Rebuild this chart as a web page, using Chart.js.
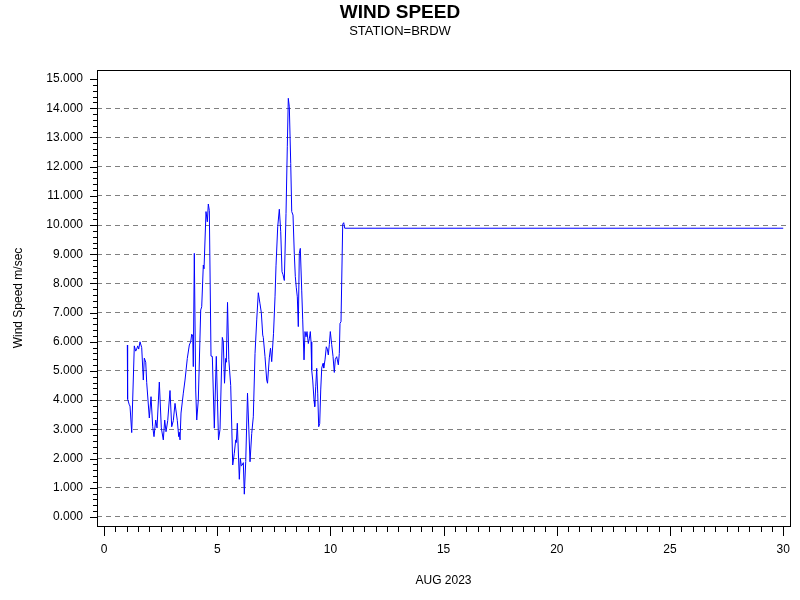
<!DOCTYPE html>
<html><head><meta charset="utf-8">
<script src="https://cdn.jsdelivr.net/npm/chart.js@4/dist/chart.umd.min.js"></script>
<style>html,body{margin:0;padding:0;background:#fff}canvas{display:block}</style>
</head><body>
<canvas id="c" width="800" height="600"></canvas>
<script>
const titleText = 'WIND SPEED';
const subtitleText = 'STATION=BRDW';
const xTitle = 'AUG 2023';
const yTitle = 'Wind Speed m/sec';

const days = [1.029,1.042,1.117,1.148,1.223,1.338,1.400,1.444,1.489,1.533,1.590,1.665,1.736,1.780,1.842,1.886,
2.001,2.076,2.151,2.208,2.284,2.341,2.443,2.531,2.619,2.681,2.739,2.814,2.915,2.990,3.061,3.136,3.238,3.299,3.326,3.357,
3.401,3.503,3.578,3.679,3.768,3.829,3.874,3.918,3.944,3.989,4.050,4.095,4.165,4.271,4.315,4.386,4.417,4.505,4.563,4.607,
4.651,4.726,4.784,4.872,4.960,5.057,5.124,5.225,5.269,5.322,5.375,5.402,5.455,5.512,5.596,5.685,5.755,5.817,5.844,5.888,
5.976,6.020,6.065,6.109,6.153,6.197,6.259,6.338,6.449,6.524,6.594,6.670,6.745,6.815,6.890,6.948,7.010,7.036,7.111,7.186,
7.222,7.301,7.354,7.407,7.487,7.553,7.597,7.672,7.743,7.805,7.862,7.906,7.964,8.039,8.096,8.140,8.185,8.247,8.291,8.348,
8.406,8.450,8.494,8.538,8.582,8.626,8.671,8.732,8.776,8.834,8.878,8.922,8.966,9.024,9.068,9.112,9.143,9.174,9.218,9.276,
9.307,9.351,9.395,9.439,9.483,9.527,9.572,9.616,9.673,9.704,9.761,9.819,9.863,9.907,9.951,9.996,10.057,10.115,10.172,10.216,
10.278,10.349,10.393,10.424,10.468,10.543,10.587,10.632,30.0];

const speed = [5.89,4.04,3.84,3.80,2.89,5.86,5.68,5.75,5.86,5.75,6.00,5.80,4.69,5.44,5.30,4.60,
3.39,4.12,3.09,2.75,3.32,3.05,4.62,3.05,2.64,3.32,2.92,3.30,4.33,3.09,3.30,3.89,3.30,2.75,2.90,2.64,
3.56,4.24,4.69,5.43,5.89,6.00,6.26,6.20,5.15,9.03,4.35,3.32,4.00,7.09,7.20,8.63,8.50,10.46,10.11,10.72,
10.50,5.51,5.50,3.04,5.50,2.64,3.00,6.15,6.00,4.58,5.43,5.30,7.35,5.40,4.50,1.78,2.18,2.64,2.55,3.21,
1.29,2.01,1.75,1.78,1.86,0.78,1.90,4.24,1.89,2.86,3.43,5.60,6.75,7.68,7.30,7.00,6.23,6.15,5.49,4.69,
4.58,5.45,5.78,5.32,6.29,7.54,8.60,9.94,10.54,9.77,8.40,8.30,8.10,10.40,12.68,14.34,14.05,12.11,10.46,10.34,
9.00,8.23,7.85,7.54,6.52,9.03,9.20,7.77,6.75,5.38,6.35,6.17,6.35,5.94,6.10,6.35,6.00,5.03,4.69,4.00,
3.78,4.46,5.09,4.24,3.09,3.20,4.35,5.10,5.26,5.10,5.38,5.83,5.75,5.55,5.90,6.35,5.90,5.50,4.95,5.40,
5.49,5.21,5.60,6.63,6.69,10.03,10.08,9.89,9.89];

const yTickValues = [0,1,2,3,4,5,6,7,8,9,10,11,12,13,14,15];
const xTickValues = [0,5,10,15,20,25,30];

const FONT = "'Liberation Sans', Arial, sans-serif";

const decor = {
  id: 'decor',
  afterDraw(chart) {
    const {ctx, chartArea: a, scales: {x, y}} = chart;
    ctx.save();
    ctx.strokeStyle = '#000';
    ctx.lineWidth = 1;
    ctx.setLineDash([]);
    const L = Math.round(a.left), R = Math.round(a.right), T = Math.round(a.top), B = Math.round(a.bottom);
    ctx.strokeRect(L + 0.5, T + 0.5, R - L, B - T);
    ctx.beginPath();
    for (let i = 0; i <= 75; i++) {
      const py = Math.round(y.getPixelForValue(i / 5)) + 0.5;
      const len = i % 5 === 0 ? 7 : 4;
      ctx.moveTo(L - len, py); ctx.lineTo(L, py);
    }
    for (let i = 0; i <= 60; i++) {
      const px = Math.round(x.getPixelForValue(i / 2)) + 0.5;
      const len = i % 10 === 0 ? 9 : 5;
      ctx.moveTo(px, B + 1); ctx.lineTo(px, B + 1 + len);
    }
    ctx.stroke();
    ctx.fillStyle = '#000';
    ctx.textAlign = 'center';
    ctx.textBaseline = 'alphabetic';
    ctx.font = 'bold 19px ' + FONT;
    ctx.fillText(titleText, 400, 18);
    ctx.font = '13px ' + FONT;
    ctx.fillText(subtitleText, 400, 35);
    ctx.restore();
  }
};

new Chart(document.getElementById('c'), {
  type: 'scatter',
  data: {
    datasets: [{
      data: days.map((d, i) => ({x: d, y: speed[i]})),
      showLine: true,
      borderColor: '#0000ff',
      backgroundColor: '#0000ff',
      borderWidth: 1,
      pointRadius: 0,
      tension: 0
    }]
  },
  options: {
    responsive: false,
    animation: false,
    devicePixelRatio: 1,
    layout: {padding: {top: 70, right: 10, left: 0, bottom: 0}},
    plugins: {legend: {display: false}, tooltip: {enabled: false}, title: {display: false}},
    scales: {
      x: {
        type: 'linear',
        min: -0.31, max: 30.3,
        afterBuildTicks: s => { s.ticks = xTickValues.map(v => ({value: v})); },
        afterFit: s => { s.height = 74; s.paddingLeft = 0; s.paddingRight = 0; },
        grid: {display: false, drawTicks: false},
        border: {display: false},
        ticks: {padding: 16, color: '#000', font: {family: FONT, size: 12}, maxRotation: 0, autoSkip: false,
                callback: v => String(v)},
        title: {display: true, text: xTitle, color: '#000', font: {family: FONT, size: 12}, padding: {top: 0, bottom: 12}}
      },
      y: {
        type: 'linear',
        min: -0.31, max: 15.31,
        afterBuildTicks: s => { s.ticks = yTickValues.map(v => ({value: v})); },
        afterFit: s => { s.width = 97; s.paddingTop = 0; s.paddingBottom = 0; },
        grid: {
          drawTicks: false,
          lineWidth: 1,
          color: c => (c.tick && c.tick.value === 15) ? 'rgba(0,0,0,0)' : '#808080'
        },
        border: {display: false, dash: [5, 4]},
        ticks: {padding: 14, color: '#000', font: {family: FONT, size: 12}, autoSkip: false,
                callback: v => Number(v).toFixed(3)},
        title: {display: true, text: yTitle, color: '#000', font: {family: FONT, size: 12}, padding: {top: 11, bottom: 0}}
      }
    }
  },
  plugins: [decor]
});
</script>
</body></html>
